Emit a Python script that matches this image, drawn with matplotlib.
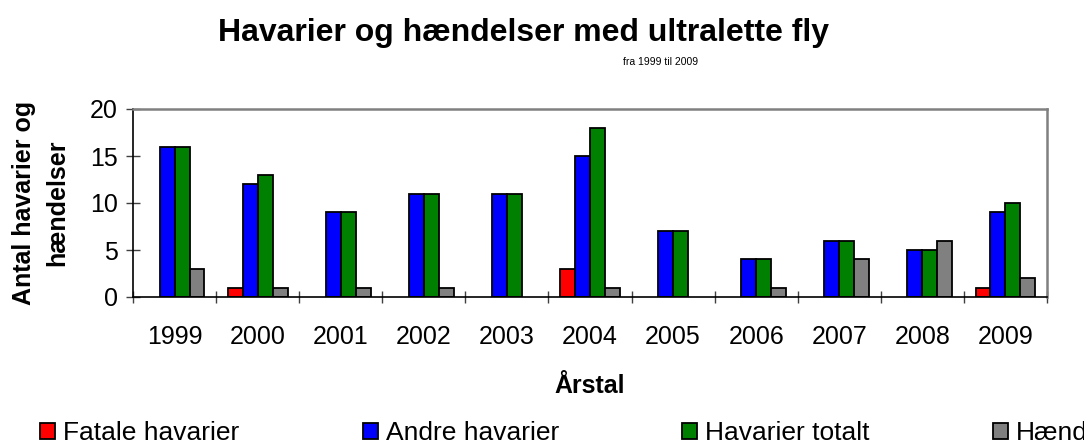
import numpy as np
import matplotlib.pyplot as plt
from matplotlib.ticker import FixedLocator

plt.rcParams['font.family'] = ['Liberation Sans', 'DejaVu Sans']

# Data
years = ['1999', '2000', '2001', '2002', '2003', '2004', '2005', '2006', '2007', '2008', '2009']
fatale = [0, 1, 0, 0, 0, 3, 0, 0, 0, 0, 1]
andre = [16, 12, 9, 11, 11, 15, 7, 4, 6, 5, 9]
totalt = [16, 13, 9, 11, 11, 18, 7, 4, 6, 5, 10]
haendelser = [3, 1, 1, 1, 0, 1, 0, 1, 4, 6, 2]

series = [
    ('Fatale havarier', fatale, '#ff0000'),
    ('Andre havarier', andre, '#0000ff'),
    ('Havarier totalt', totalt, '#008000'),
    ('Hændelser', haendelser, '#808080'),
]

fig = plt.figure(figsize=(10.84, 4.46), dpi=100)
ax = fig.add_axes([133 / 1084, 1 - 297 / 446, (1047 - 133) / 1084, (297 - 109) / 446])

x = np.arange(len(years))
w = 0.18
for i, (name, vals, col) in enumerate(series):
    vals = np.array(vals, dtype=float)
    # zero values are simply not drawn
    h = np.where(vals > 0, vals, np.nan)
    ax.bar(x + (i - 1.5) * w, h, w, color=col, edgecolor='black', linewidth=1.3, label=name)

ax.set_xlim(-0.5, len(years) - 0.5)
ax.set_ylim(0, 20)
ax.set_yticks([0, 5, 10, 15, 20])
ax.set_xticks(x)
ax.set_xticklabels(years)
ax.xaxis.set_minor_locator(FixedLocator(np.arange(-0.5, len(years), 1)))

ax.tick_params(axis='x', which='major', length=0, labelsize=18, pad=20)
ax.tick_params(axis='x', which='minor', direction='inout', length=8, width=1, color='#404040')
ax.tick_params(axis='y', direction='inout', length=10, width=1, color='#404040', labelsize=18, pad=6)

for s in ('left', 'bottom'):
    ax.spines[s].set_color('black')
    ax.spines[s].set_linewidth(1.2)
for s in ('top', 'right'):
    ax.spines[s].set_color('#808080')
    ax.spines[s].set_linewidth(1.8)

ax.set_ylabel('Antal havarier og\nhændelser', fontsize=18, fontweight='bold', labelpad=15, linespacing=1.45)
ax.set_xlabel('Årstal', fontsize=18, fontweight='bold', labelpad=18)

fig.text(523 / 1084, 1 - 33 / 446, 'Havarier og hændelser med ultralette fly',
         ha='center', va='center', fontsize=23, fontweight='bold')
fig.text(661 / 1084, 1 - 62 / 446, 'fra 1999 til 2009', ha='center', va='center', fontsize=7.5)

fig.legend(loc='center left', bbox_to_anchor=(40 / 1084, 1 - 433 / 446), ncol=4,
           frameon=False, fontsize=19, handlelength=0.57, handleheight=0.57,
           handletextpad=0.3, columnspacing=4.68, borderpad=0, borderaxespad=0)

fig.savefig('out.png', dpi=100)
